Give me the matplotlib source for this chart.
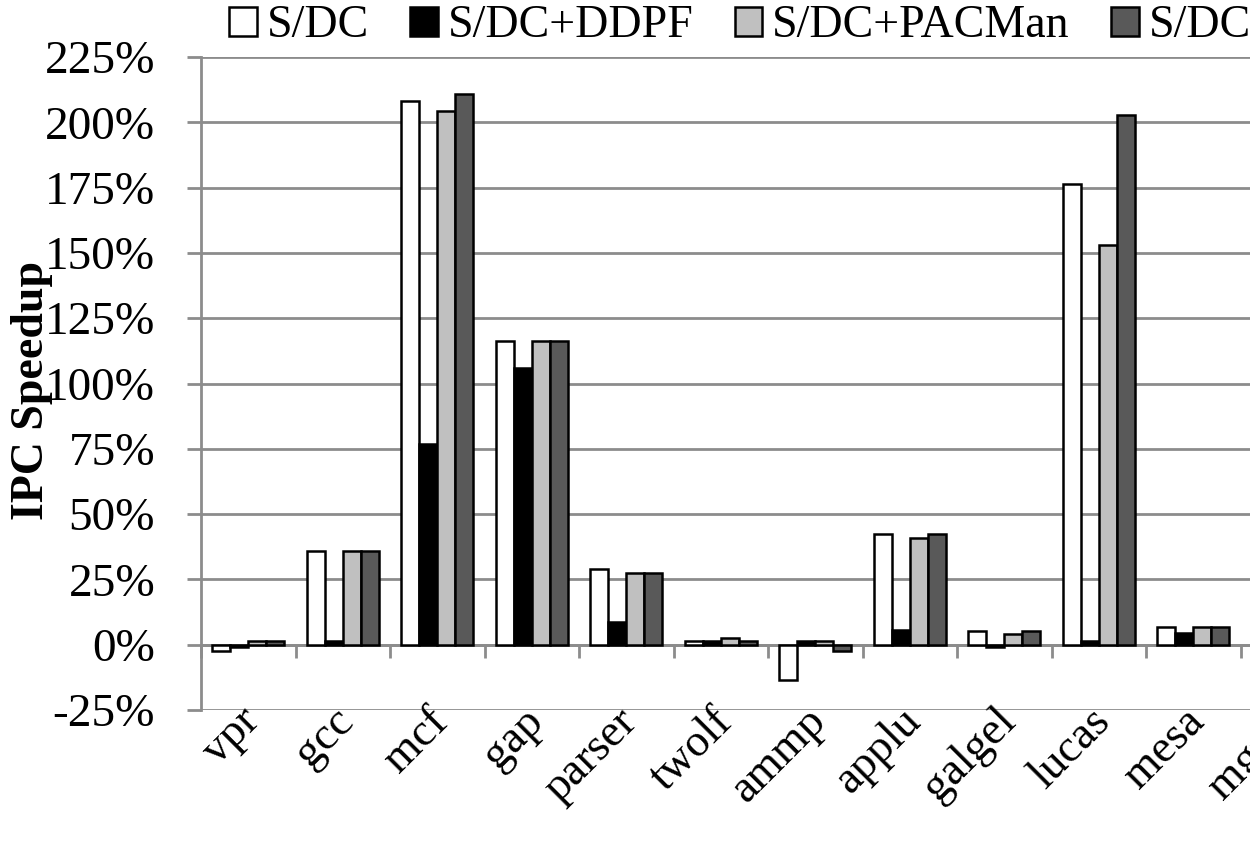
import numpy as np
import matplotlib
matplotlib.use("Agg")
import matplotlib.pyplot as plt
from matplotlib.patches import Patch

plt.rcParams["font.family"] = ["Liberation Serif", "DejaVu Serif"]

benchmarks = ["vpr", "gcc", "mcf", "gap", "parser", "twolf", "ammp",
              "applu", "galgel", "lucas", "mesa", "mgrid"]
series_names = ["S/DC", "S/DC+DDPF", "S/DC+PACMan", "S/DC+PACMan+DDPF"]

# values in percent (mgrid bars fall outside the figure)
sdc         = [-2.5, 36.0, 208.3, 116.2, 29.0, 1.3, -13.5, 42.3, 5.3, 176.3, 6.6]
sdc_ddpf    = [-1.0, 1.5, 76.7, 105.9, 8.7, 1.3, 1.3, 5.5, -1.0, 1.3, 4.3]
sdc_pacman  = [1.5, 36.0, 204.2, 116.2, 27.6, 2.7, 1.3, 40.9, 4.0, 152.9, 6.6]
sdc_both    = [1.5, 36.0, 211.0, 116.2, 27.6, 1.3, -2.5, 42.3, 5.3, 202.9, 6.6]

colors = ["white", "black", "#c0c0c0", "#595959"]
GRID = "#8c8c8c"

fig = plt.figure(figsize=(12.5, 8.47), dpi=100)
# the plot area runs past the right edge of the figure, like the original
ax = fig.add_axes([201 / 1250, 137 / 847, 1134 / 1250, 653 / 847])

x = np.arange(len(sdc))
bw = 0.19
for k, vals in enumerate([sdc, sdc_ddpf, sdc_pacman, sdc_both]):
    ax.bar(x + (k - 1.5) * bw, vals, width=bw, color=colors[k],
           edgecolor="black", linewidth=1.8, zorder=3)

ax.set_xlim(-0.5, len(benchmarks) - 0.5)
ax.set_ylim(-25, 225)
ax.set_yticks(np.arange(-25, 226, 25))
ax.set_yticklabels([f"{v}%" for v in range(-25, 226, 25)], fontsize=34)
ax.yaxis.grid(True, color=GRID, linewidth=2.0, zorder=0)
ax.tick_params(axis="y", length=10, width=2.0, color=GRID, pad=23)

# category axis sits at 0%, ticks between categories
ax.spines["bottom"].set_position(("data", 0))
ax.spines["bottom"].set_color(GRID)
ax.spines["bottom"].set_linewidth(2.0)
ax.spines["bottom"].set_zorder(2)
ax.spines["left"].set_color(GRID)
ax.spines["left"].set_linewidth(2.0)
ax.spines["top"].set_visible(False)
ax.spines["right"].set_visible(False)
ax.set_xticks(np.arange(-0.5, len(benchmarks), 1.0))
ax.set_xticklabels([])
ax.tick_params(axis="x", length=9, width=2.0, color=GRID, direction="out")

for i, name in enumerate(benchmarks):
    ax.text(i + 0.05, -0.008, name, transform=ax.get_xaxis_transform(),
            rotation=45, rotation_mode="anchor", ha="right", va="center",
            fontsize=33)

fig.text(32 / 1250, 1 - 390 / 847, "IPC Speedup", rotation=90,
         ha="center", va="center", fontsize=33, fontweight="bold")

handles = [Patch(facecolor=c, edgecolor="black", linewidth=1.8) for c in colors]
fig.legend(handles, series_names, loc="center left", ncol=4,
           bbox_to_anchor=(229 / 1250, 1 - 26 / 847), frameon=False,
           fontsize=33, handlelength=0.6, handleheight=0.6,
           handletextpad=0.22, columnspacing=0.9, borderpad=0,
           borderaxespad=0)

plt.savefig("out.png", dpi=100)
plt.close()
